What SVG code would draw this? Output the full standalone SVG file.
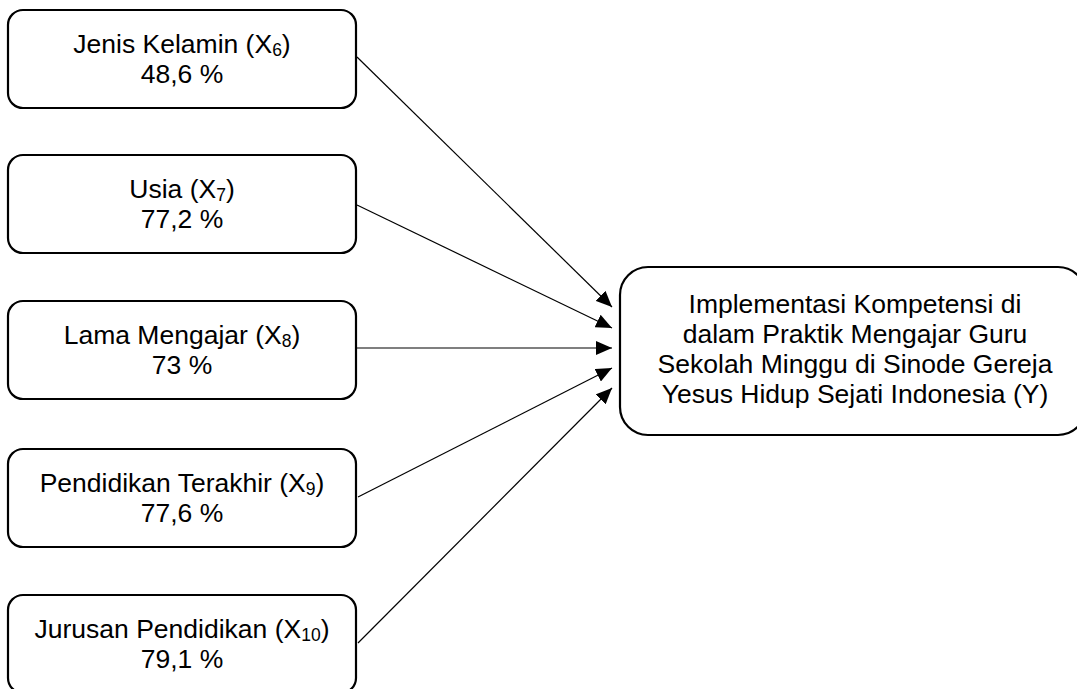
<svg xmlns="http://www.w3.org/2000/svg" width="1077" height="689" viewBox="0 0 1077 689">
<style>
.box{fill:#fff;stroke:#000;stroke-width:2.2}
.t{font-family:"Liberation Sans",Arial,sans-serif;font-size:26.5px;fill:#000;text-anchor:middle}
.sub{font-size:17.5px}
.c{stroke:#000;stroke-width:1.2;fill:none;marker-end:url(#ah)}
</style>
<defs>
<marker id="ah" markerUnits="userSpaceOnUse" markerWidth="18" markerHeight="14" refX="16" refY="7" orient="auto">
<path d="M0,0 L16,7 L0,14 Z" fill="#000"/>
</marker>
</defs>
<rect width="1077" height="689" fill="#fff"/>
<g id="connectors">
<line class="c" x1="357" y1="57" x2="612" y2="307"/>
<line class="c" x1="357" y1="205" x2="612" y2="328"/>
<line class="c" x1="357" y1="348" x2="612" y2="348"/>
<line class="c" x1="358" y1="497" x2="612" y2="368"/>
<line class="c" x1="358" y1="643" x2="612" y2="388"/>
</g>
<g id="x6">
<rect class="box" x="8" y="10" width="348" height="98" rx="15"/>
<text class="t" x="182" y="53">Jenis Kelamin (X<tspan class="sub" dy="3">6</tspan><tspan dy="-3">)</tspan></text>
<text class="t" x="182" y="83">48,6 %</text>
</g>
<g id="x7">
<rect class="box" x="8" y="155" width="348" height="98" rx="15"/>
<text class="t" x="182" y="198">Usia (X<tspan class="sub" dy="3">7</tspan><tspan dy="-3">)</tspan></text>
<text class="t" x="182" y="228">77,2 %</text>
</g>
<g id="x8">
<rect class="box" x="8" y="301" width="348" height="98" rx="15"/>
<text class="t" x="182" y="344">Lama Mengajar (X<tspan class="sub" dy="3">8</tspan><tspan dy="-3">)</tspan></text>
<text class="t" x="182" y="374">73 %</text>
</g>
<g id="x9">
<rect class="box" x="8" y="449" width="348" height="98" rx="15"/>
<text class="t" x="182" y="492">Pendidikan Terakhir (X<tspan class="sub" dy="3">9</tspan><tspan dy="-3">)</tspan></text>
<text class="t" x="182" y="522">77,6 %</text>
</g>
<g id="x10">
<rect class="box" x="8" y="595" width="348" height="98" rx="15"/>
<text class="t" x="182" y="638">Jurusan Pendidikan (X<tspan class="sub" dy="3">10</tspan><tspan dy="-3">)</tspan></text>
<text class="t" x="182" y="668">79,1 %</text>
</g>
<g id="y">
<rect class="box" x="620" y="267" width="466" height="168" rx="28"/>
<text class="t" x="855" y="313">Implementasi Kompetensi di</text>
<text class="t" x="855" y="343">dalam Praktik Mengajar Guru</text>
<text class="t" x="855" y="373">Sekolah Minggu di Sinode Gereja</text>
<text class="t" x="855" y="403">Yesus Hidup Sejati Indonesia (Y)</text>
</g>
</svg>
